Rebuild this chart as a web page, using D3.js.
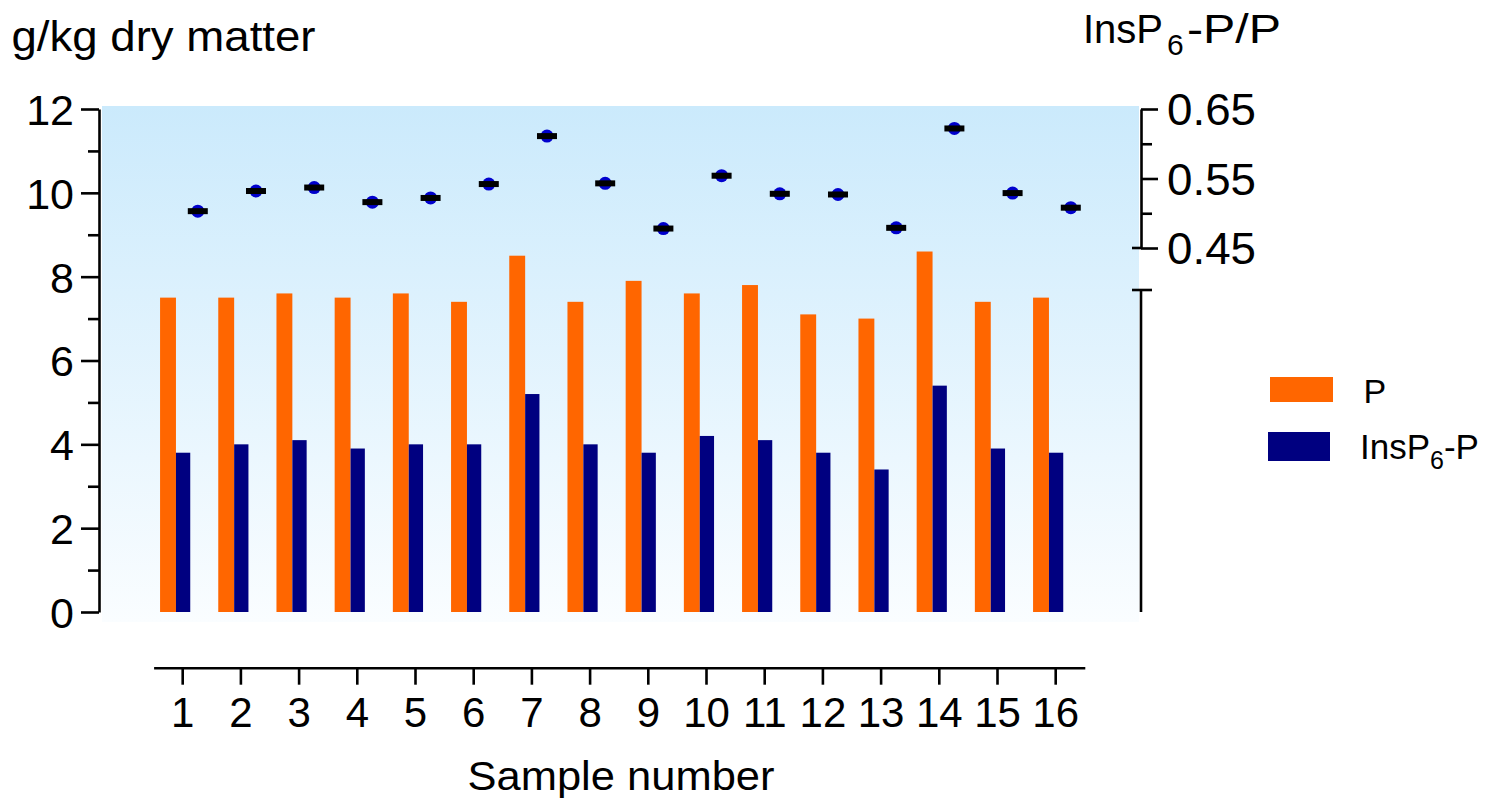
<!DOCTYPE html>
<html>
<head>
<meta charset="utf-8">
<script src="https://cdn.jsdelivr.net/npm/d3@7"></script>
<style>
  html, body { margin: 0; padding: 0; background: #ffffff; }
  svg { display: block; font-family: "Liberation Sans", Arial, Helvetica, sans-serif; }
</style>
</head>
<body>
<svg id="chart" width="1485" height="800"></svg>
<script>
// Sample categories and measured contents
const samples = ["1","2","3","4","5","6","7","8","9","10","11","12","13","14","15","16"];
const totalP = [7.5, 7.5, 7.6, 7.5, 7.6, 7.4, 8.5, 7.4, 7.9, 7.6, 7.8, 7.1, 7.0, 8.6, 7.4, 7.5];
const phytateP = [3.8, 4.0, 4.1, 3.9, 4.0, 4.0, 5.2, 4.0, 3.8, 4.2, 4.1, 3.8, 3.4, 5.4, 3.9, 3.8];
const ratio = [0.503, 0.532, 0.537, 0.516, 0.522, 0.542, 0.611, 0.543, 0.478, 0.554, 0.528, 0.527, 0.479, 0.622, 0.529, 0.508];

// Axis ticks
const leftMajor = [0, 2, 4, 6, 8, 10, 12];
const leftMinor = [1, 3, 5, 7, 9, 11];
const rightMajor = [0.45, 0.55, 0.65];
const rightMinor = [0.50, 0.60];

const seriesNames = ["P", "InsP6-P", "ratio"];
const colors = { "P": "#ff6600", "InsP6-P": "#000080" };
const dotColor = "#0000cd";

const svg = d3.select("#chart");

// Layout
const plotLeft = 99, plotRight = 1141;
const yTop = 109, yBottom = 612;

const x = d3.scaleBand()
  .domain(samples)
  .range([153.6, 1084.8])
  .paddingInner(0.222)
  .paddingOuter(0.111);

const xSub = d3.scaleBand()
  .domain(seriesNames)
  .range([0, x.bandwidth()]);

const yLeft = d3.scaleLinear().domain([0, 12]).range([yBottom, yTop]);
const yRight = d3.scaleLinear().domain([0.45, 0.65]).range([248, yTop]);

// Gradient background of plotting area
const defs = svg.append("defs");
const grad = defs.append("linearGradient")
  .attr("id", "bgGrad").attr("x1", 0).attr("y1", 0).attr("x2", 0).attr("y2", 1);
grad.append("stop").attr("offset", "0%").attr("stop-color", "rgb(203,234,252)");
grad.append("stop").attr("offset", "100%").attr("stop-color", "rgb(250,253,255)");

svg.append("rect")
  .attr("x", plotLeft + 3).attr("y", yTop - 3)
  .attr("width", plotRight - 2 - (plotLeft + 3))
  .attr("height", 622 - (yTop - 3))
  .attr("fill", "url(#bgGrad)");

// Bars
const groups = svg.append("g").selectAll("g.sample")
  .data(samples)
  .join("g")
  .attr("class", "sample")
  .attr("transform", d => `translate(${x(d)},0)`);

groups.append("rect")
  .attr("x", xSub("P"))
  .attr("width", xSub.bandwidth() + 0.8)
  .attr("y", (d, i) => yLeft(totalP[i]))
  .attr("height", (d, i) => yLeft(0) - yLeft(totalP[i]))
  .attr("fill", colors["P"]);

groups.append("rect")
  .attr("x", xSub("InsP6-P") + 0.8)
  .attr("width", xSub.bandwidth() - 0.8)
  .attr("y", (d, i) => yLeft(phytateP[i]))
  .attr("height", (d, i) => yLeft(0) - yLeft(phytateP[i]))
  .attr("fill", colors["InsP6-P"]);

// Ratio markers on the right axis: dot with mean bar
const cx = xSub("ratio") + xSub.bandwidth() / 2;
groups.append("circle")
  .attr("cx", cx)
  .attr("cy", (d, i) => yRight(ratio[i]))
  .attr("r", 6.5)
  .attr("fill", dotColor);
groups.append("rect")
  .attr("x", cx - 10)
  .attr("y", (d, i) => yRight(ratio[i]) - 3)
  .attr("width", 20)
  .attr("height", 6)
  .attr("fill", "#000000");

// Axis styling helper
function styleAxis(g, fontSize) {
  g.selectAll("path.domain").attr("stroke", "#000").attr("stroke-width", 2.6);
  g.selectAll(".tick line").attr("stroke", "#000").attr("stroke-width", 2.6);
  g.selectAll(".tick text")
    .attr("fill", "#000")
    .attr("font-size", fontSize)
    .attr("font-family", "'Liberation Sans', Arial, sans-serif");
}

// Left axis
const gLeft = svg.append("g").attr("transform", `translate(${plotLeft},0)`)
  .call(d3.axisLeft(yLeft).tickValues(leftMajor).tickSize(18).tickSizeOuter(0).tickPadding(7));
styleAxis(gLeft, 43);
gLeft.selectAll(".tick text").attr("dy", "0.36em");

const gLeftMinor = svg.append("g").attr("transform", `translate(${plotLeft},0)`)
  .call(d3.axisLeft(yLeft).tickValues(leftMinor).tickSize(11).tickFormat(""));
gLeftMinor.select("path.domain").remove();
styleAxis(gLeftMinor, 0);

// Right axis, upper segment with ticks
const gRight = svg.append("g").attr("transform", `translate(${plotRight},0)`)
  .call(d3.axisRight(yRight).tickValues(rightMajor).tickSize(17).tickSizeOuter(0)
    .tickPadding(9).tickFormat(d3.format(".2f")));
styleAxis(gRight, 44);
gRight.selectAll(".tick text").attr("dy", "0.36em")
  .attr("textLength", 89).attr("lengthAdjust", "spacingAndGlyphs");

const gRightMinor = svg.append("g").attr("transform", `translate(${plotRight},0)`)
  .call(d3.axisRight(yRight).tickValues(rightMinor).tickSize(11).tickFormat(""));
gRightMinor.select("path.domain").remove();
styleAxis(gRightMinor, 0);

// Axis break caps and lower segment of the right axis
const breakTop = yRight(0.45);
const breakBottom = breakTop + 42;
const axisLines = svg.append("g").attr("stroke", "#000").attr("stroke-width", 2.6);
axisLines.append("line")
  .attr("x1", plotRight - 9).attr("x2", plotRight)
  .attr("y1", breakTop).attr("y2", breakTop);
axisLines.append("line")
  .attr("x1", plotRight - 9).attr("x2", plotRight + 11)
  .attr("y1", breakBottom).attr("y2", breakBottom);
axisLines.append("line")
  .attr("x1", plotRight).attr("x2", plotRight)
  .attr("y1", breakBottom).attr("y2", yLeft(0));

// Bottom axis (offset below the plot)
const gBottom = svg.append("g").attr("transform", "translate(0,667.7)")
  .call(d3.axisBottom(x).tickSize(17).tickSizeOuter(0).tickPadding(12));
styleAxis(gBottom, 42);
gBottom.selectAll(".tick text").attr("dy", "0.71em");

// Axis titles
svg.append("text")
  .attr("x", 11.5).attr("y", 50.7)
  .attr("font-size", 42)
  .attr("textLength", 304)
  .attr("lengthAdjust", "spacingAndGlyphs")
  .text("g/kg dry matter");

const rTitle = svg.append("text")
  .attr("x", 1083).attr("y", 43.3)
  .attr("font-size", 40);
rTitle.append("tspan").text("InsP");
rTitle.append("tspan").attr("x", 1167).attr("font-size", 30).attr("dy", 12).text("6");
rTitle.append("tspan").attr("x", 1187).attr("dy", -12)
  .attr("textLength", 94).attr("lengthAdjust", "spacingAndGlyphs").text("-P/P");

svg.append("text")
  .attr("x", 621).attr("y", 790)
  .attr("text-anchor", "middle")
  .attr("font-size", 40)
  .attr("textLength", 307)
  .attr("lengthAdjust", "spacingAndGlyphs")
  .text("Sample number");

// Legend
const legend = svg.append("g");
legend.append("rect")
  .attr("x", 1270).attr("y", 377).attr("width", 63).attr("height", 25)
  .attr("fill", colors["P"]);
legend.append("rect")
  .attr("x", 1268).attr("y", 432).attr("width", 62).attr("height", 29)
  .attr("fill", colors["InsP6-P"]);
legend.append("text")
  .attr("x", 1363.5).attr("y", 402.7)
  .attr("font-size", 34)
  .text("P");
const lt = legend.append("text")
  .attr("x", 1360).attr("y", 459.3)
  .attr("font-size", 35);
lt.append("tspan").text("InsP");
lt.append("tspan").attr("font-size", 25).attr("dy", 10).text("6");
lt.append("tspan").attr("dy", -10).text("-P");
</script>
</body>
</html>
